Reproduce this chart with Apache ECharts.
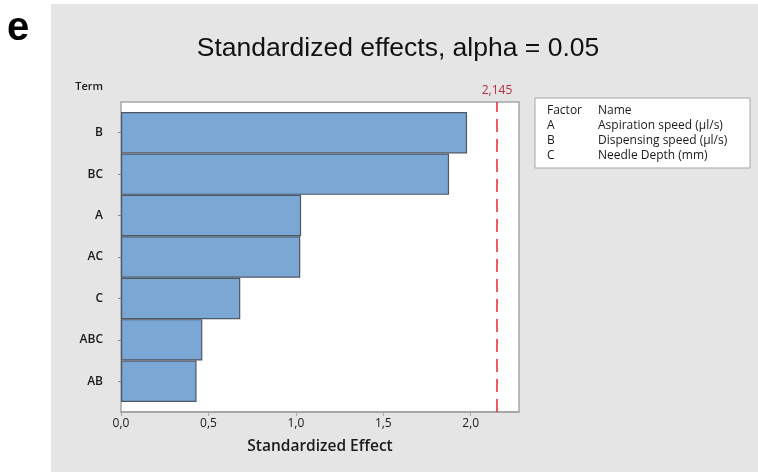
<!DOCTYPE html>
<html><head><meta charset="utf-8">
<script src="https://cdn.jsdelivr.net/npm/echarts@6/dist/echarts.min.js"></script>
<style>html,body{margin:0;padding:0;background:#fff}#c{width:758px;height:472px}</style>
</head><body><div id="c"></div>
<script>
var terms = ['B', 'BC', 'A', 'AC', 'C', 'ABC', 'AB'];
var effects = [1.979, 1.876, 1.030, 1.025, 0.682, 0.465, 0.432];
var threshold = 2.145;
var thresholdLabel = '2,145';
var xMin = 0, xMax = 2.276, xStep = 0.5;
var factorLetters = ['A', 'B', 'C'];
var factorNames = ['Aspiration speed (\u00b5l/s)', 'Dispensing speed (\u00b5l/s)', 'Needle Depth (mm)'];
var titleText = 'Standardized effects, alpha = 0.05';
var xName = 'Standardized Effect';
var yName = 'Term';
var panelLabel = 'e';

var FONT = 'Open Sans';
var chart = echarts.init(document.getElementById('c'), null, {renderer: 'canvas'});

var legendChildren = [
  {type: 'rect', shape: {x: 535, y: 98, width: 215, height: 70}, style: {fill: '#fff', stroke: '#a6a6a6', lineWidth: 1}},
  {type: 'text', x: 547, y: 111, style: {text: 'Factor', font: '12px "' + FONT + '"', fill: '#1a1a1a', textVerticalAlign: 'middle'}},
  {type: 'text', x: 598, y: 111, style: {text: 'Name', font: '12px "' + FONT + '"', fill: '#1a1a1a', textVerticalAlign: 'middle'}}
];
factorLetters.forEach(function (f, i) {
  legendChildren.push({type: 'text', x: 547, y: 126 + i * 14.7, style: {text: f, font: '12px "' + FONT + '"', fill: '#1a1a1a', textVerticalAlign: 'middle'}});
  legendChildren.push({type: 'text', x: 598, y: 126 + i * 14.7, style: {text: factorNames[i], font: '12px "' + FONT + '"', fill: '#1a1a1a', textVerticalAlign: 'middle'}});
});

var fmt = function (v) { return v.toFixed(1).replace('.', ','); };

chart.setOption({
  backgroundColor: '#ffffff',
  animation: false,
  title: {
    text: titleText, left: 393, top: 30, textAlign: 'center',
    textStyle: {fontFamily: 'Liberation Sans', fontSize: 26.5, fontWeight: 'normal', color: '#111'}
  },
  graphic: [
    {type: 'rect', z: -10, shape: {x: 51, y: 4, width: 720, height: 480}, style: {fill: '#e5e5e5'}},
    {type: 'text', x: 7, y: 9, style: {text: panelLabel, font: 'bold 40px "Liberation Sans"', fill: '#000'}},
    {type: 'text', x: 103, y: 87, style: {text: yName, font: '600 11px "' + FONT + '"', fill: '#1a1a1a', textAlign: 'right', textVerticalAlign: 'middle'}},
    {type: 'group', children: legendChildren}
  ],
  grid: [
    {left: 121, top: 102, right: 239, bottom: 60, show: true, backgroundColor: '#fff', borderColor: '#a6a6a6', borderWidth: 1.5},
    {left: 121, top: 112, right: 239, bottom: 70}
  ],
  xAxis: [
    {
      gridIndex: 0, type: 'value', min: xMin, max: xMax, interval: xStep,
      axisLine: {show: true, lineStyle: {color: '#a6a6a6', width: 2}},
      axisTick: {show: true, length: 4, lineStyle: {color: '#a6a6a6'}},
      splitLine: {show: false},
      axisLabel: {formatter: fmt, fontFamily: FONT, fontSize: 12, color: '#1a1a1a', margin: 6, showMaxLabel: false},
      name: xName, nameLocation: 'middle', nameGap: 27,
      nameTextStyle: {fontFamily: FONT, fontSize: 15.5, fontWeight: 600, color: '#1a1a1a'}
    },
    {gridIndex: 1, type: 'value', min: xMin, max: xMax, show: false}
  ],
  yAxis: [
    {gridIndex: 0, type: 'value', min: 0, max: 1, show: false},
    {
      gridIndex: 1, type: 'category', data: terms, inverse: true,
      axisLine: {show: false},
      axisTick: {show: true, length: 3, alignWithLabel: true, lineStyle: {color: '#888'}},
      axisLabel: {fontFamily: FONT, fontSize: 12, fontWeight: 600, color: '#1a1a1a', margin: 18}
    }
  ],
  series: [
    {
      type: 'bar', xAxisIndex: 1, yAxisIndex: 1, data: effects, barCategoryGap: 0,
      itemStyle: {color: '#7ba7d4', borderColor: '#4d5766', borderWidth: 1.2}
    },
    {
      type: 'line', xAxisIndex: 0, yAxisIndex: 0, data: [], silent: true,
      markLine: {
        symbol: 'none', silent: true,
        lineStyle: {color: '#e32636', type: [13, 7], width: 1.5},
        label: {formatter: thresholdLabel, position: 'end', distance: 5, color: '#b03040', fontFamily: FONT, fontSize: 12},
        data: [{xAxis: threshold}]
      }
    }
  ]
});
</script></body></html>
